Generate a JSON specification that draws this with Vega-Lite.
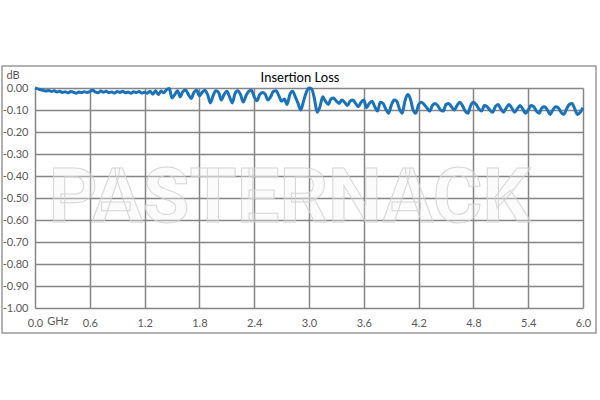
{
  "$schema": "https://vega.github.io/schema/vega-lite/v6.json",
  "width": 548,
  "height": 220,
  "autosize": "none",
  "padding": {"left": 35, "top": 88, "right": 17, "bottom": 92},
  "background": "white",
  "config": {
    "view": {"stroke": null},
    "font": "Lato",
    "axisX": {"format": ".1f", "labelFlush": false, "labelOverlap": false, "grid": true, "gridColor": "#858585", "gridWidth": 1.5, "domain": false, "ticks": false, "labelPadding": 9, "labelFontSize": 11, "labelColor": "#595959", "labelFont": "Lato"},
    "axisY": {"labelOverlap": false, "labelExpr": "datum.value < 0 ? '-' + format(-datum.value, '.2f') : format(datum.value, '.2f')", "grid": true, "gridColor": "#858585", "gridWidth": 1.5, "domain": false, "ticks": false, "labelPadding": 7, "labelFontSize": 11, "labelColor": "#595959", "labelFont": "Lato", "titleAngle": 0, "titleAlign": "left", "titleBaseline": "middle", "titleX": -29, "titleY": -13, "titleFontWeight": "normal", "titleFontSize": 11, "titleColor": "#595959", "titleFont": "Lato"}
  },
  "title": {"text": "Insertion Loss", "fontSize": 13, "font": "Lato", "fontWeight": "normal", "color": "#000000", "anchor": "middle", "offset": 5, "dx": -9, "dy": 25},
  "layer": [
    {
      "data": {"values": [
        {"GHz":0,"dB":0},{"GHz":0.03,"dB":-0.004},{"GHz":0.06,"dB":-0.008},{"GHz":0.09,"dB":-0.01},{"GHz":0.12,"dB":-0.014},{"GHz":0.15,"dB":-0.011},{"GHz":0.18,"dB":-0.016},{"GHz":0.21,"dB":-0.013},{"GHz":0.24,"dB":-0.018},{"GHz":0.27,"dB":-0.015},
        {"GHz":0.3,"dB":-0.02},{"GHz":0.33,"dB":-0.017},{"GHz":0.36,"dB":-0.022},{"GHz":0.39,"dB":-0.016},{"GHz":0.42,"dB":-0.019},{"GHz":0.45,"dB":-0.024},{"GHz":0.48,"dB":-0.018},{"GHz":0.51,"dB":-0.021},{"GHz":0.54,"dB":-0.017},{"GHz":0.57,"dB":-0.02},
        {"GHz":0.6,"dB":-0.016},{"GHz":0.63,"dB":-0.01},{"GHz":0.66,"dB":-0.018},{"GHz":0.69,"dB":-0.022},{"GHz":0.72,"dB":-0.014},{"GHz":0.75,"dB":-0.019},{"GHz":0.78,"dB":-0.015},{"GHz":0.81,"dB":-0.021},{"GHz":0.84,"dB":-0.018},{"GHz":0.87,"dB":-0.023},
        {"GHz":0.9,"dB":-0.016},{"GHz":0.93,"dB":-0.02},{"GHz":0.96,"dB":-0.015},{"GHz":0.99,"dB":-0.022},{"GHz":1.02,"dB":-0.018},{"GHz":1.05,"dB":-0.024},{"GHz":1.08,"dB":-0.017},{"GHz":1.11,"dB":-0.021},{"GHz":1.14,"dB":-0.016},{"GHz":1.17,"dB":-0.023},
        {"GHz":1.2,"dB":-0.019},{"GHz":1.23,"dB":-0.024},{"GHz":1.26,"dB":-0.015},{"GHz":1.29,"dB":-0.028},{"GHz":1.32,"dB":-0.012},{"GHz":1.35,"dB":-0.03},{"GHz":1.38,"dB":-0.014},{"GHz":1.41,"dB":-0.022},{"GHz":1.44,"dB":-0.008},{"GHz":1.47,"dB":-0.002},
        {"GHz":1.5,"dB":-0.045},{"GHz":1.53,"dB":-0.03},{"GHz":1.56,"dB":-0.012},{"GHz":1.59,"dB":-0.04},{"GHz":1.62,"dB":-0.015},{"GHz":1.65,"dB":-0.01},{"GHz":1.68,"dB":-0.03},{"GHz":1.71,"dB":-0.048},{"GHz":1.74,"dB":-0.02},{"GHz":1.77,"dB":-0.01},
        {"GHz":1.8,"dB":-0.035},{"GHz":1.83,"dB":-0.02},{"GHz":1.86,"dB":-0.01},{"GHz":1.89,"dB":-0.03},{"GHz":1.92,"dB":-0.068},{"GHz":1.95,"dB":-0.035},{"GHz":1.98,"dB":-0.012},{"GHz":2.01,"dB":-0.02},{"GHz":2.04,"dB":-0.055},{"GHz":2.07,"dB":-0.03},
        {"GHz":2.1,"dB":-0.015},{"GHz":2.13,"dB":-0.04},{"GHz":2.16,"dB":-0.068},{"GHz":2.19,"dB":-0.025},{"GHz":2.22,"dB":-0.012},{"GHz":2.25,"dB":-0.03},{"GHz":2.28,"dB":-0.064},{"GHz":2.31,"dB":-0.035},{"GHz":2.34,"dB":-0.015},{"GHz":2.37,"dB":-0.01},
        {"GHz":2.4,"dB":-0.04},{"GHz":2.43,"dB":-0.058},{"GHz":2.46,"dB":-0.03},{"GHz":2.49,"dB":-0.02},{"GHz":2.52,"dB":-0.028},{"GHz":2.55,"dB":-0.055},{"GHz":2.58,"dB":-0.04},{"GHz":2.61,"dB":-0.015},{"GHz":2.64,"dB":-0.012},{"GHz":2.67,"dB":-0.035},
        {"GHz":2.7,"dB":-0.06},{"GHz":2.73,"dB":-0.05},{"GHz":2.76,"dB":-0.075},{"GHz":2.79,"dB":-0.03},{"GHz":2.82,"dB":-0.015},{"GHz":2.85,"dB":-0.04},{"GHz":2.88,"dB":-0.07},{"GHz":2.91,"dB":-0.1},{"GHz":2.94,"dB":-0.06},{"GHz":2.97,"dB":-0.02},
        {"GHz":3.0,"dB":0},{"GHz":3.03,"dB":-0.005},{"GHz":3.06,"dB":-0.05},{"GHz":3.09,"dB":-0.11},{"GHz":3.12,"dB":-0.085},{"GHz":3.15,"dB":-0.04},{"GHz":3.18,"dB":-0.06},{"GHz":3.21,"dB":-0.075},{"GHz":3.24,"dB":-0.05},{"GHz":3.27,"dB":-0.045},
        {"GHz":3.3,"dB":-0.06},{"GHz":3.33,"dB":-0.07},{"GHz":3.36,"dB":-0.055},{"GHz":3.39,"dB":-0.065},{"GHz":3.42,"dB":-0.08},{"GHz":3.45,"dB":-0.06},{"GHz":3.48,"dB":-0.055},{"GHz":3.51,"dB":-0.07},{"GHz":3.54,"dB":-0.085},{"GHz":3.57,"dB":-0.065},
        {"GHz":3.6,"dB":-0.055},{"GHz":3.63,"dB":-0.09},{"GHz":3.66,"dB":-0.07},{"GHz":3.69,"dB":-0.06},{"GHz":3.72,"dB":-0.085},{"GHz":3.75,"dB":-0.105},{"GHz":3.78,"dB":-0.065},{"GHz":3.81,"dB":-0.07},{"GHz":3.84,"dB":-0.095},{"GHz":3.87,"dB":-0.115},
        {"GHz":3.9,"dB":-0.08},{"GHz":3.93,"dB":-0.055},{"GHz":3.96,"dB":-0.06},{"GHz":3.99,"dB":-0.095},{"GHz":4.02,"dB":-0.115},{"GHz":4.05,"dB":-0.06},{"GHz":4.08,"dB":-0.03},{"GHz":4.11,"dB":-0.05},{"GHz":4.14,"dB":-0.1},{"GHz":4.17,"dB":-0.115},
        {"GHz":4.2,"dB":-0.075},{"GHz":4.23,"dB":-0.065},{"GHz":4.26,"dB":-0.075},{"GHz":4.29,"dB":-0.09},{"GHz":4.32,"dB":-0.105},{"GHz":4.35,"dB":-0.08},{"GHz":4.38,"dB":-0.07},{"GHz":4.41,"dB":-0.08},{"GHz":4.44,"dB":-0.1},{"GHz":4.47,"dB":-0.105},
        {"GHz":4.5,"dB":-0.075},{"GHz":4.53,"dB":-0.07},{"GHz":4.56,"dB":-0.085},{"GHz":4.59,"dB":-0.1},{"GHz":4.62,"dB":-0.08},{"GHz":4.65,"dB":-0.065},{"GHz":4.68,"dB":-0.08},{"GHz":4.71,"dB":-0.105},{"GHz":4.74,"dB":-0.115},{"GHz":4.77,"dB":-0.08},
        {"GHz":4.8,"dB":-0.065},{"GHz":4.83,"dB":-0.075},{"GHz":4.86,"dB":-0.095},{"GHz":4.89,"dB":-0.105},{"GHz":4.92,"dB":-0.08},{"GHz":4.95,"dB":-0.085},{"GHz":4.98,"dB":-0.1},{"GHz":5.01,"dB":-0.11},{"GHz":5.04,"dB":-0.085},{"GHz":5.07,"dB":-0.075},
        {"GHz":5.1,"dB":-0.095},{"GHz":5.13,"dB":-0.11},{"GHz":5.16,"dB":-0.09},{"GHz":5.19,"dB":-0.075},{"GHz":5.22,"dB":-0.09},{"GHz":5.25,"dB":-0.11},{"GHz":5.28,"dB":-0.095},{"GHz":5.31,"dB":-0.08},{"GHz":5.34,"dB":-0.095},{"GHz":5.37,"dB":-0.115},
        {"GHz":5.4,"dB":-0.1},{"GHz":5.43,"dB":-0.08},{"GHz":5.46,"dB":-0.085},{"GHz":5.49,"dB":-0.105},{"GHz":5.52,"dB":-0.115},{"GHz":5.55,"dB":-0.09},{"GHz":5.58,"dB":-0.085},{"GHz":5.61,"dB":-0.1},{"GHz":5.64,"dB":-0.12},{"GHz":5.67,"dB":-0.1},
        {"GHz":5.7,"dB":-0.085},{"GHz":5.73,"dB":-0.09},{"GHz":5.76,"dB":-0.11},{"GHz":5.79,"dB":-0.12},{"GHz":5.82,"dB":-0.095},{"GHz":5.85,"dB":-0.075},{"GHz":5.88,"dB":-0.07},{"GHz":5.91,"dB":-0.095},{"GHz":5.94,"dB":-0.12},{"GHz":5.97,"dB":-0.11},
        {"GHz":6.0,"dB":-0.09}
      ]},
      "mark": {"type": "line", "color": "#1a72bb", "strokeWidth": 3, "interpolate": "monotone"},
      "encoding": {
        "x": {"field": "GHz", "type": "quantitative", "scale": {"domain": [0, 6], "nice": false, "zero": false},
          "axis": {"values": [0, 0.6, 1.2, 1.8, 2.4, 3.0, 3.6, 4.2, 4.8, 5.4, 6.0], "title": null}},
        "y": {"field": "dB", "type": "quantitative", "scale": {"domain": [-1, 0], "nice": false, "zero": false},
          "axis": {"values": [0, -0.1, -0.2, -0.3, -0.4, -0.5, -0.6, -0.7, -0.8, -0.9, -1.0], "title": "dB"}}
      }
    },
    {
      "data": {"values": [{}]},
      "mark": {"type": "rect", "fillOpacity": 0, "stroke": "#999999", "strokeWidth": 1.5, "clip": false},
      "encoding": {
        "x": {"datum": -0.3613, "type": "quantitative", "axis": {"values": [0, 0.6, 1.2, 1.8, 2.4, 3.0, 3.6, 4.2, 4.8, 5.4, 6.0], "title": null}},
        "x2": {"datum": 6.1424},
        "y": {"datum": 0.1, "type": "quantitative", "axis": {"values": [0, -0.1, -0.2, -0.3, -0.4, -0.5, -0.6, -0.7, -0.8, -0.9, -1.0], "title": "dB"}},
        "y2": {"datum": -1.1136}
      }
    },
    {
      "data": {"values": [{}]},
      "mark": {"type": "text", "text": "PASTERNACK", "font": "Roboto", "fontWeight": "bold", "fontSize": 76, "align": "center", "baseline": "alphabetic",
        "fill": "#f4f4f4", "fillOpacity": 0.35, "stroke": "#d2d2d2", "strokeWidth": 1, "strokeOpacity": 0.9},
      "encoding": {
        "x": {"datum": 2.79, "type": "quantitative", "axis": {"values": [0, 0.6, 1.2, 1.8, 2.4, 3.0, 3.6, 4.2, 4.8, 5.4, 6.0], "title": null}},
        "y": {"datum": -0.609, "type": "quantitative", "axis": {"values": [0, -0.1, -0.2, -0.3, -0.4, -0.5, -0.6, -0.7, -0.8, -0.9, -1.0], "title": "dB"}}
      }
    },
    {
      "data": {"values": [{}]},
      "mark": {"type": "text", "text": "GHz", "font": "Lato", "fontSize": 11, "color": "#595959", "align": "center", "baseline": "middle", "clip": false},
      "encoding": {
        "x": {"datum": 0.25, "type": "quantitative", "axis": {"values": [0, 0.6, 1.2, 1.8, 2.4, 3.0, 3.6, 4.2, 4.8, 5.4, 6.0], "title": null}},
        "y": {"datum": -1.0636, "type": "quantitative", "axis": {"values": [0, -0.1, -0.2, -0.3, -0.4, -0.5, -0.6, -0.7, -0.8, -0.9, -1.0], "title": "dB"}}
      }
    }
  ]
}
